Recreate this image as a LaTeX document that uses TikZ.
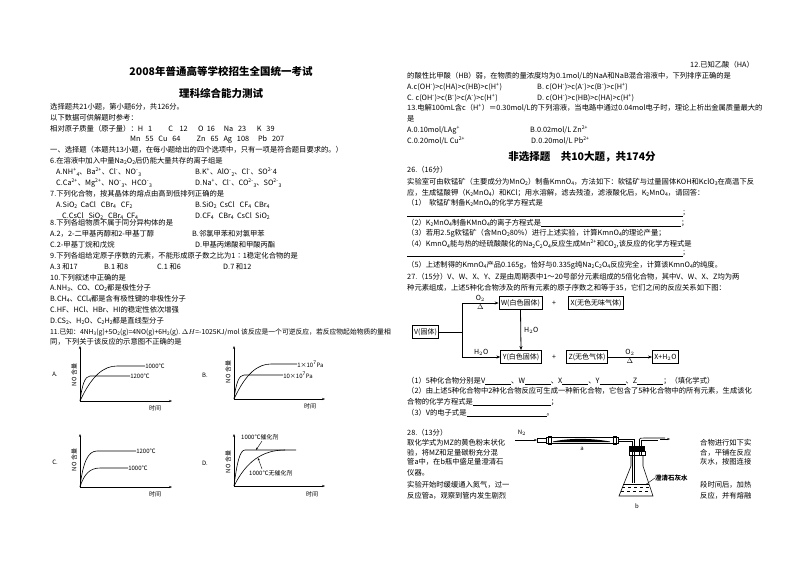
\documentclass[tikz,border=0pt]{standalone}
\usepackage{fontspec}
\setmainfont{Noto Sans CJK SC}
\usetikzlibrary{arrows.meta}
\newcommand{\up}[1]{\textsuperscript{#1}}
\newcommand{\dn}[1]{\raisebox{-0.4ex}{\scalebox{0.7}{#1}}}
\begin{document}
\begin{tikzpicture}[x=1pt,y=-1pt,
 t/.style={anchor=west,inner sep=0,font=\fontsize{7.3}{8}\selectfont},
 ttl/.style={inner sep=0,font=\fontsize{10.5}{11}\bfseries},
 bx/.style={draw,thick,inner sep=2pt,font=\fontsize{7}{8}\selectfont,minimum height=13pt},
 ax/.style={-{Stealth[length=3pt]},line width=0.6pt},
 cv/.style={line width=0.6pt},
 ar/.style={-{Stealth[length=4pt]},thick},
 ul/.style={line width=0.4pt}]
\fill[white] (0,0) rectangle (800,566);
\useasboundingbox (0,0) rectangle (800,566);
% ---- left column ----
\node[ttl] (h1) at (221,71) {2008年普通高等学校招生全国统一考试};
\node[ttl] (h2) at (221,93) {理科综合能力测试};
\node[t] (l1) at (50,107) {选择题共21小题，第小题6分，共126分。};
\node[t] (l2) at (50,118) {以下数据可供解题时参考：};
\node[t] (l3) at (50,129) {相对原子质量（原子量）：H\ \ \ 1\qquad\ C\ \ \ \ 12\quad\ \ O\ \ 16\quad\ Na\ \ \ 23\quad\ \ K\ \ \ 39};
\node[t] (l4) at (130,140) {Mn\ \ \ 55\ \ \ Cu\ \ \ 64\qquad\ Zn\ \ \ 65\ \ \ Ag\ \ \ 108\quad\ Pb\ \ \ 207};
\node[t] (l5) at (50,150) {一、选择题（本题共13小题，在每小题给出的四个选项中，只有一项是符合题目要求的。）};
\node[t] (l6) at (50,161) {6.在溶液中加入中量Na\dn{2}O\dn{2}后仍能大量共存的离子组是};
\node[t] (l7a) at (56,172) {A.NH\up{+}\dn{4}、Ba\up{2+}、Cl\up{-}、NO\up{-}\dn{3}};
\node[t] (l7b) at (195,172) {B.K\up{+}、AlO\up{-}\dn{2}、Cl\up{-}、SO\up{2-}4};
\node[t] (l8a) at (56,183) {C.Ca\up{2+}、Mg\up{2+}、NO\up{-}\dn{3}、HCO\up{-}\dn{3}};
\node[t] (l8b) at (195,183) {D.Na\up{+}、Cl\up{-}、CO\up{2-}\dn{3}、SO\up{2-}\dn{3}};
\node[t] (l9) at (50,194) {7.下列化合物，按其晶体的熔点由高到低排列正确的是};
\node[t] (l10a) at (56,205) {A.SiO\dn{2}\ \ CaCl\ \ \ CBr\dn{4}\ \ \ CF\dn{2}};
\node[t] (l10b) at (195,205) {B.SiO\dn{2}\ \ CsCl\ \ \ CF\dn{4}\ \ CBr\dn{4}};
\node[t] (l11a) at (62,216) {C.CsCl\ \ \ SiO\dn{2}\ \ \ CBr\dn{4}\ \ CF\dn{4}};
\node[t] (l11b) at (195,216) {D.CF\dn{4}\ \ \ CBr\dn{4}\ \ CsCl\ \ SiO\dn{2}};
\node[t] (l12) at (50,223) {8.下列各组物质不属于同分异构体的是};
\node[t] (l13a) at (50,234) {A.2，2-二甲基丙醇和2-甲基丁醇};
\node[t] (l13b) at (192,234) {B.邻氯甲苯和对氯甲苯};
\node[t] (l14a) at (50,245) {C.2-甲基丁烷和戊烷};
\node[t] (l14b) at (195,245) {D.甲基丙烯酸和甲酸丙酯};
\node[t] (l15) at (50,256) {9.下列各组给定原子序数的元素，不能形成原子数之比为1∶1稳定化合物的是};
\node[t] (l16a) at (50,267) {A.3\ 和17};
\node[t] (l16b) at (104,267) {B.1\ 和8};
\node[t] (l16c) at (157,267) {C.1\ 和6};
\node[t] (l16d) at (223,267) {D.7\ 和12};
\node[t] (l17) at (50,278) {10.下列叙述中正确的是};
\node[t] (l18) at (50,288) {A.NH\dn{3}、CO、CO\dn{2}都是极性分子};
\node[t] (l19) at (50,299) {B.CH\dn{4}、CCl\dn{4}都是含有极性键的非极性分子};
\node[t] (l20) at (50,310) {C.HF、HCl、HBr、HI的稳定性依次增强};
\node[t] (l21) at (50,321) {D.CS\dn{2}、H\dn{2}O、C\dn{2}H\dn{2}都是直线型分子};
\node[t,font=\fontsize{6.8}{8}\selectfont] (l22) at (50,332) {11.已知：4NH\dn{3}(g)+5O\dn{2}(g)=4NO(g)+6H\dn{2}(g).\ $\Delta H$=-1025KJ/mol 该反应是一个可逆反应，若反应物起始物质的量相};
\node[t] (l23) at (50,342) {同，下列关于该反应的示意图不正确的是};
% ---- graphs ----
\begin{scope}[every node/.style={inner sep=0,font=\fontsize{6}{7}\selectfont}]
\coordinate (oA) at (80,401);
\draw[ax] (oA) -- (80,346);
\draw[ax] (oA) -- (172,401);
\node (tA) at (155,408) {时间};
\node[rotate=90] (yA) at (74,375) {NO 含量};
\node (gA) at (55,374) {A.};
\draw[cv] (oA) .. controls (92,375) and (104,366) .. (117,366) -- (145,366) node[right] (aA1) {1000℃};
\draw[cv] (oA) .. controls (82,385) and (85,376) .. (90,376) -- (130,376) node[right] (aA2) {1200℃};
\coordinate (oB) at (234,399);
\draw[ax] (oB) -- (234,346);
\draw[ax] (oB) -- (325,399);
\node (tB) at (310,406) {时间};
\node[rotate=90] (yB) at (228,372) {NO 含量};
\node (gB) at (205,375) {B.};
\draw[cv] (oB) .. controls (246,373) and (258,364) .. (271,364) -- (297,364) node[right] (aB1) {1×10\up{7}Pa};
\draw[cv] (oB) .. controls (236,383) and (239,375) .. (244,375) -- (283,375) node[right] (aB2) {10×10\up{7}Pa};
\coordinate (oC) at (80,487);
\draw[ax] (oC) -- (80,434);
\draw[ax] (oC) -- (172,487);
\node (tC) at (155,494) {时间};
\node[rotate=90] (yC) at (74,460) {NO 含量};
\node (gC) at (55,462) {C.};
\draw[cv] (oC) .. controls (83,462) and (88,451) .. (97,451) -- (136,451) node[right] (aC1) {1200℃};
\draw[cv] (oC) .. controls (84,474) and (90,468) .. (100,468) -- (128,468) node[right] (aC2) {1000℃};
\coordinate (oD) at (234,486);
\draw[ax] (oD) -- (234,434);
\draw[ax] (oD) -- (325,486);
\node (tD) at (312,494) {时间};
\node[rotate=90] (yD) at (228,462) {NO 含量};
\node (gD) at (205,463) {D.};
\draw[cv] (oD) .. controls (237,462) and (240,450) .. (245,450) -- (296,450);
\draw[cv] (oD) .. controls (246,462) and (262,450) .. (285,450);
\node[anchor=west] (aD1) at (241,437) {1000℃催化剂};
\node[anchor=west] (aD2) at (249,473) {1000℃无催化剂};
\coordinate (pD1) at (256,450);
\coordinate (pD2) at (258,458);
\coordinate (qD1) at (262,441);
\coordinate (qD2) at (262,469);
\draw[-{Stealth[length=2.5pt]},line width=0.4pt] (qD1) -- (pD1);
\draw[-{Stealth[length=2.5pt]},line width=0.4pt] (qD2) -- (pD2);
\end{scope}
% ---- right column ----
\node[t] (r0) at (690,65) {12.已知乙酸（HA）};
\node[t] (r1) at (407,76) {的酸性比甲酸（HB）弱，在物质的量浓度均为0.1mol/L的NaA和NaB混合溶液中，下列排序正确的是};
\node[t] (r2a) at (407,87) {A.\textit{c}(OH\up{-})>\textit{c}(HA)>\textit{c}(HB)>\textit{c}(H\up{+})};
\node[t] (r2b) at (537,87) {B.\ \textit{c}(OH\up{-})>\textit{c}(A\up{-})>\textit{c}(B\up{-})>\textit{c}(H\up{+})};
\node[t] (r3a) at (407,98) {C.\ \textit{c}(OH\up{-})>\textit{c}(B\up{-})>\textit{c}(A\up{-})>\textit{c}(H\up{+})};
\node[t] (r3b) at (537,98) {D.\ \textit{c}(OH\up{-})>\textit{c}(HB)>\textit{c}(HA)>\textit{c}(H\up{+})};
\node[t] (r4) at (407,108) {13.电解100mL含\textit{c}（H\up{+}）＝0.30mol/L的下列溶液，当电路中通过0.04mol电子时，理论上析出金属质量最大的};
\node[t] (r5) at (407,119) {是};
\node[t] (r6a) at (407,130) {A.0.10mol/LAg\up{+}};
\node[t] (r6b) at (530,130) {B.0.02mol/L Zn\up{2+}};
\node[t] (r7a) at (407,141) {C.0.20mol/L Cu\up{2+}};
\node[t] (r7b) at (531,141) {D.0.20mol/L Pb\up{2+}};
\node[ttl] (h3) at (582,157) {非选择题\quad 共10大题，共174分};
\node[t] (r8) at (407,170) {26.（16分）};
\node[t] (r9) at (407,182) {实验室可由软锰矿（主要成分为MnO\dn{2}）制备KmnO\dn{4}，方法如下：软锰矿与过量固体KOH和KclO\dn{3}在高温下反};
\node[t] (r10) at (407,193) {应，生成锰酸钾（K\dn{2}MnO\dn{4}）和KCl；用水溶解，滤去残渣，滤液酸化后，K\dn{2}MnO\dn{4}，请回答：};
\node[t] (r11) at (407,203) {（1）\ \ 软锰矿制备K\dn{2}MnO\dn{4}的化学方程式是};
\coordinate (u1a) at (407,216); \coordinate (u1b) at (683,216);
\draw[ul] (u1a) -- (u1b) node[t,anchor=south west] {;};
\node[t] (r12) at (407,223) {（2）K\dn{2}MnO\dn{4}制备KMnO\dn{4}的离子方程式是\underline{\hspace{140pt}}；};
\node[t] (r13) at (407,233) {（3）若用2.5g软锰矿（含MnO\dn{2}80\%）进行上述实验，计算KmnO\dn{4}的理论产量；};
\node[t] (r14) at (407,244) {（4）KmnO\dn{4}能与热的经硫酸酸化的Na\dn{2}C\dn{2}O\dn{4}反应生成Mn\up{2+}和CO\dn{2},该反应的化学方程式是};
\coordinate (u2a) at (407,256); \coordinate (u2b) at (683,256);
\draw[ul] (u2a) -- (u2b) node[t,anchor=south west] {;};
\node[t] (r15) at (407,265) {（5）上述制得的KmnO\dn{4}产品0.165g，恰好与0.335g纯Na\dn{2}C\dn{2}O\dn{4}反应完全，计算该KmnO\dn{4}的纯度。};
\node[t] (r16) at (407,277) {27.（15分）V、W、X、Y、Z是由周期表中1～20号部分元素组成的5倍化合物，其中V、W、X、Z均为两};
\node[t] (r17) at (407,288) {种元素组成，上述5种化合物涉及的所有元素的原子序数之和等于35，它们之间的反应关系如下图：};
% flowchart
\node[bx] (V) at (425.5,332) {V(固体)};
\node[bx] (W) at (520.5,303) {W(白色固体)};
\node[bx] (X) at (596,303) {X(无色无味气体)};
\node[bx] (Y) at (521,357) {Y(白色固体)};
\node[bx] (Z) at (587,357) {Z(无色气体)};
\node[bx] (XH) at (665.5,357) {X+H$_2$O};
\coordinate (br1) at (462,303);
\coordinate (br2) at (462,357);
\coordinate (brm) at (462,332);
\draw[thick] (V.east) -- (brm);
\draw[thick] (br2) -- (br1);
\draw[ar] (br1) -- (W.west) node[midway,above,inner sep=1pt,font=\fontsize{7}{8}\selectfont] {O$_2$} node[midway,below,inner sep=1pt,font=\fontsize{7}{8}\selectfont] {$\Delta$};
\draw[ar] (br2) -- (Y.west) node[midway,above,inner sep=1pt,font=\fontsize{7}{8}\selectfont] {H$_2$O};
\draw[ar] (W.south) -- (Y.north) node[midway,right,inner sep=3pt,font=\fontsize{7}{8}\selectfont] {H$_2$O};
\draw[ar] (Z.east) -- (XH.west) node[midway,above,inner sep=1pt,font=\fontsize{7}{8}\selectfont] {O$_2$} node[midway,below,inner sep=1pt,font=\fontsize{7}{8}\selectfont] {$\Delta$};
\node[inner sep=0,font=\fontsize{7}{8}\selectfont] (p1) at (554,303) {+};
\node[inner sep=0,font=\fontsize{7}{8}\selectfont] (p2) at (554,357) {+};
\node[t] (r18) at (407,381) {（1）5种化合物分别是V\underline{\hspace{26pt}}、W\underline{\hspace{26pt}}、X\underline{\hspace{26pt}}、Y\underline{\hspace{26pt}}、Z\underline{\hspace{26pt}}；（填化学式）};
\node[t] (r19) at (407,391) {（2）由上述5种化合物中2种化合物反应可生成一种新化合物，它包含了5种化合物中的所有元素，生成该化};
\node[t] (r20) at (407,402) {合物的化学方程式是\underline{\hspace{78pt}}；};
\node[t] (r21) at (407,413) {（3）V的电子式是\underline{\hspace{80pt}}。};
\node[t] (r22) at (407,433) {28.（13分）};
\node[t] (r23) at (407,443) {取化学式为MZ的黄色粉末状化};
\node[t] (r24) at (407,453) {验，将MZ和足量碳粉充分混};
\node[t] (r25) at (407,462) {管a中，在b瓶中盛足量澄清石};
\node[t] (r26) at (407,473) {仪器。};
\node[t] (r27) at (407,485) {实验开始时缓缓通入氮气，过一};
\node[t] (r28) at (407,496) {反应管a，观察到管内发生剧烈};
\node[t] (s23) at (700,443) {合物进行如下实};
\node[t] (s24) at (700,453) {合，平铺在反应};
\node[t] (s25) at (700,462) {灰水，按图连接};
\node[t] (s27) at (700,485) {段时间后，加热};
\node[t] (s28) at (700,496) {反应，并有熔融};
% apparatus
\node[inner sep=0,font=\fontsize{6}{7}\selectfont] (N2) at (522,433) {N$_2$};
\coordinate (in1) at (515,440);
\coordinate (tubeL) at (537,440);
\draw[-{Stealth[length=3pt]},line width=0.5pt] (in1) -- (tubeL);
\draw[line width=0.5pt] (537,438) rectangle (546,442);
\draw[line width=0.6pt] (546,437) rectangle (618,443);
\draw[line width=0.5pt] (548,436) rectangle (551,444);
\draw[line width=0.5pt] (613,436) rectangle (616,444);
\fill (553,441.5) .. controls (570,438) and (590,438) .. (610,441.5) -- (610,442) -- (553,442) -- cycle;
\node[inner sep=0,font=\fontsize{6}{7}\selectfont] (la) at (582,449) {a};
\draw[line width=0.6pt] (618,439) -- (634,439) -- (634,483);
\draw[line width=0.6pt] (618,441) -- (632,441) -- (632,483);
\draw[line width=0.6pt] (639,440) -- (639,456);
\draw[line width=0.6pt] (641,440) -- (641,456);
\draw[line width=0.6pt] (639,440) .. controls (639,438) and (641,438) .. (644,438) -- (665,438);
\draw[line width=0.6pt] (641,440) -- (658,440);
\coordinate (out1) at (660,439);
\coordinate (out2) at (670,439);
\draw[-{Stealth[length=3pt]},line width=0.5pt] (out1) -- (out2);
\fill (629,446) rectangle (645,451);
\draw[line width=0.5pt] (629,451) rectangle (645,455);
\draw[line width=0.6pt] (631,455) -- (631,466) -- (619,496) -- (653,496) -- (643,466) -- (643,455);
\draw[line width=0.4pt,dashed] (622,487) -- (650,487);
\draw[line width=0.4pt,dashed] (621,491) -- (651,491);
\draw[line width=0.4pt] (623,484) -- (649,484);
\node[inner sep=0,font=\fontsize{6.5}{7}\bfseries,anchor=west] (lw) at (655,478) {澄清石灰水};
\coordinate (lwp) at (645,485);
\draw[line width=0.4pt] (lw.west) -- (lwp);
\node[inner sep=0,font=\fontsize{6}{7}\selectfont] (lb) at (637,506) {b};
\end{tikzpicture}
\end{document}
